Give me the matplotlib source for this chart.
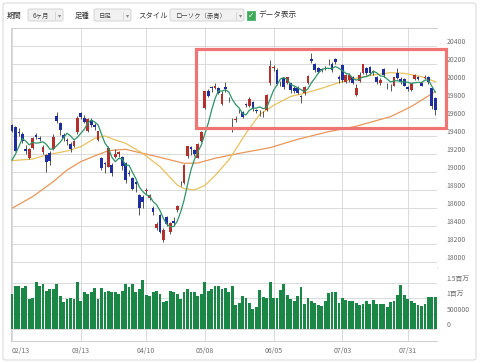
import matplotlib.pyplot as plt
import pandas as pd
from matplotlib.patches import Rectangle, FancyBboxPatch

plt.rcParams['font.family'] = ['Noto Sans CJK JP', 'DejaVu Sans']

W, H = 480, 363

# x軸ラベル（営業日インデックス）
date_labels = ['02/13', '03/13', '04/10', '05/08', '06/05', '07/03', '07/31']
date_pos = [0, 20, 39, 56, 76, 96, 115]

# 日足 四本値
opens = [19520, 19500, 19440, 19420, 19250, 19160, 19270, 19410, 19380, 19220,
         19190, 19210, 19250, 19625, 19545, 19410, 19350, 19310, 19290, 19440,
         19650, 19600, 19460, 19580, 19520, 19360, 19150, 19100, 19060, 19080,
         19170, 19200, 19170, 19100, 18990, 18930, 18890, 18740, 18720, 18790,
         18710, 18600, 18380, 18520, 18240, 18500, 18330, 18460, 18580, 18880,
         18880, 19180, 19280, 19240, 19160, 19340, 19710, 19900, 19940, 19930,
         19930, 19750, 19945, 19810, 19560, 19580, 19680, 19670, 19750, 19730,
         19780, 19690, 19680, 19660, 19690, 19985, 20150, 20130, 19990, 20040,
         19990, 19985, 19930, 19930, 19840, 19880, 19990, 20250, 20200, 20160,
         20140, 20140, 20220, 20200, 20250, 20050, 20190, 20000, 20020, 20060,
         19860, 20010, 20100, 20160, 20170, 20110, 20060, 19990, 20140, 19960,
         19960, 19960, 20100, 20030, 20030, 19940, 19910, 20030, 20050, 19990,
         20050, 20060, 19930, 19820]
highs = [19530, 19510, 19490, 19440, 19300, 19270, 19390, 19430, 19400, 19300,
         19200, 19230, 19420, 19670, 19560, 19430, 19380, 19330, 19360, 19620,
         19670, 19630, 19600, 19600, 19540, 19460, 19170, 19110, 19290, 19100,
         19250, 19230, 19180, 19110, 19020, 18940, 18900, 18750, 18740, 18820,
         18760, 18620, 18440, 18530, 18380, 18510, 18440, 18500, 18630, 18900,
         19090, 19290, 19290, 19260, 19320, 19450, 19900, 19920, 19960, 19990,
         19940, 19900, 19998, 19830, 19600, 19620, 19700, 19680, 19770, 19830,
         19790, 19700, 19690, 19680, 19870, 20240, 20190, 20150, 20010, 20060,
         20060, 19990, 19950, 19950, 19860, 19960, 20080, 20320, 20210, 20170,
         20160, 20180, 20260, 20220, 20270, 20080, 20200, 20090, 20100, 20070,
         19980, 20110, 20200, 20170, 20180, 20130, 20070, 20040, 20150, 19990,
         19980, 20060, 20150, 20060, 20040, 19960, 19990, 20090, 20070, 20000,
         20080, 20070, 19940, 19830]
lows = [19440, 19230, 19400, 19320, 19200, 19140, 19260, 19370, 19340, 19200,
        19000, 19080, 19240, 19540, 19410, 19340, 19300, 19220, 19280, 19420,
        19590, 19540, 19440, 19500, 19470, 19340, 19020, 18990, 19050, 18950,
        19150, 19170, 19020, 18880, 18950, 18800, 18780, 18520, 18600, 18760,
        18690, 18520, 18360, 18320, 18224, 18400, 18310, 18400, 18560, 18840,
        18870, 19160, 19190, 19180, 19150, 19330, 19700, 19830, 19890, 19920,
        19870, 19740, 19890, 19780, 19440, 19560, 19660, 19600, 19720, 19720,
        19680, 19650, 19620, 19610, 19680, 19970, 20120, 19970, 19960, 19920,
        19980, 19880, 19880, 19870, 19770, 19860, 19980, 20210, 20110, 20100,
        20110, 20130, 20190, 20110, 20200, 19990, 20000, 19990, 20000, 19980,
        19840, 20000, 20090, 20080, 20080, 20080, 19980, 19970, 20060, 19920,
        19900, 19950, 20030, 19980, 19950, 19900, 19900, 20020, 20020, 19950,
        20030, 19980, 19700, 19630]
closes = [19459, 19238, 19437, 19347, 19234, 19251, 19381, 19389, 19371, 19283,
          19107, 19118, 19393, 19564, 19469, 19379, 19344, 19254, 19340, 19604,
          19612, 19558, 19590, 19521, 19500, 19455, 19041, 19085, 19262, 18985,
          19202, 19217, 19063, 18909, 18983, 18810, 18861, 18597, 18664, 18797,
          18747, 18552, 18426, 18335, 18355, 18418, 18432, 18430, 18620, 18875,
          19079, 19289, 19251, 19196, 19310, 19445, 19895, 19843, 19935, 19961,
          19883, 19869, 19919, 19814, 19553, 19590, 19678, 19613, 19742, 19813,
          19700, 19682, 19677, 19650, 19860, 20177, 20170, 19979, 19984, 19940,
          20050, 19908, 19898, 19883, 19831, 19943, 20067, 20230, 20138, 20110,
          20132, 20153, 20225, 20130, 20220, 20033, 20020, 20080, 20081, 19994,
          19929, 20080, 20195, 20098, 20099, 20118, 20000, 20020, 20080, 19950,
          19955, 20050, 20041, 20010, 19959, 19925, 19985, 20080, 20029, 19952,
          20055, 19996, 19738, 19690]
# 表示期間より前の終値（5日線の書き出し用）
prev_closes = [18910, 19007, 18907, 19378]

# 出来高（百万株）
volumes = [1.15, 1.41, 1.41, 1.35, 1.41, 0.98, 1.00, 1.54, 1.39, 1.48,
           1.23, 1.30, 1.30, 1.46, 1.09, 0.87, 0.98, 1.01, 0.98, 1.52,
           0.92, 1.22, 1.14, 1.22, 1.35, 0.99, 1.35, 1.20, 1.25, 1.21,
           1.21, 1.13, 1.23, 1.48, 1.37, 1.46, 1.20, 1.30, 1.59, 1.10,
           1.07, 1.20, 1.24, 1.15, 0.87, 0.93, 1.23, 1.21, 1.15, 0.99,
           1.20, 1.30, 1.20, 1.20, 1.07, 1.14, 1.52, 1.25, 1.30, 1.39,
           1.39, 1.30, 1.34, 1.20, 1.39, 0.79, 0.85, 1.07, 1.01, 0.85,
           0.65, 0.72, 1.26, 1.04, 1.01, 1.53, 1.01, 1.01, 1.26, 1.48,
           1.12, 0.99, 0.93, 1.09, 1.37, 0.82, 1.01, 0.93, 0.85, 0.79,
           0.76, 0.90, 1.17, 1.21, 1.20, 0.85, 1.01, 0.96, 0.93, 0.93,
           0.85, 0.77, 0.83, 0.90, 0.83, 0.96, 0.82, 0.82, 0.83, 0.72,
           0.89, 0.91, 1.10, 1.43, 1.12, 0.98, 0.93, 0.85, 0.77, 0.76,
           0.82, 1.04, 1.04, 1.04]

# 25日線・75日線（チャートから読み取り）
ma25_pos = [0, 6, 10, 16, 20, 24, 27, 30, 33, 38, 43, 48, 50, 53, 56, 59, 63, 68,
            72, 76, 81, 85, 90, 95, 100, 105, 110, 114, 119, 123]
ma25_val = [19126, 19144, 19189, 19233, 19281, 19374, 19400, 19356, 19319, 19207,
            19059, 18856, 18815, 18800, 18850, 18960, 19133, 19430, 19640, 19740,
            19840, 19874, 19930, 19993, 20041, 20078, 20104, 20096, 20059, 20004]
ma75_pos = [0, 6, 12, 16, 20, 24, 28, 33, 38, 43, 50, 54, 59, 66, 75, 83, 92, 100,
            110, 116, 123]
ma75_val = [18597, 18726, 18893, 19022, 19115, 19178, 19237, 19252, 19207, 19163,
            19096, 19100, 19152, 19207, 19270, 19363, 19448, 19508, 19615, 19726,
            19893]

price_ticks = list(range(18000, 20401, 200))
vol_ticks = [0, 500000, 1000000, 1500000]
vol_tick_labels = ['0', '500000', '1百万', '1.5百万']

# 強調枠（価格座標）
box_x = (53.5, 126.2)
box_y = (19489, 20367)

UP = '#b3302c'
DOWN = '#1e2e9e'
GRID = '#dadada'
TXT = '#6f6f6f'


def fx(px):
    return px / W


def fy(py):
    return 1 - py / H


fig = plt.figure(figsize=(W / 100, H / 100), dpi=100)
fig.patch.set_facecolor('white')

# 外枠
fig.add_artist(FancyBboxPatch((fx(3), fy(360)), fx(473), 357 / H,
                              boxstyle='round,pad=0,rounding_size=0.006',
                              transform=fig.transFigure, facecolor='none',
                              edgecolor='#dcdcdc', lw=0.8))

# ツールバー
ty = fy(15.5)
fig.text(fx(7), ty, '期間', fontsize=5.3, color='#333333', va='center')
fig.text(fx(75), ty, '足種', fontsize=5.3, color='#333333', va='center')
fig.text(fx(138), ty, 'スタイル', fontsize=5.3, color='#333333', va='center')
fig.text(fx(258), ty, 'データ表示', fontsize=5.5, color='#333333', va='center')
for x0, x1, label in [(28, 63, '6ヶ月'), (94, 131, '日足'), (170, 244, 'ローソク（赤青）')]:
    fig.add_artist(FancyBboxPatch((fx(x0), fy(21)), fx(x1 - x0), 12 / H,
                                  boxstyle='round,pad=0,rounding_size=0.004',
                                  transform=fig.transFigure, facecolor='#f1f1f1',
                                  edgecolor='#cfcfcf', lw=0.6))
    fig.text(fx(x0 + 5), ty, label, fontsize=4.6, color='#444444', va='center')
    fig.text(fx(x1 - 9), ty, '|', fontsize=4.5, color='#aaaaaa', va='center')
    fig.text(fx(x1 - 5.5), ty, '▾', fontsize=4.5, color='#888888', va='center',
             family=['DejaVu Sans'])
fig.add_artist(Rectangle((fx(246.5), fy(19.5)), fx(8.5), 8.5 / H,
                         transform=fig.transFigure, facecolor='#3fa95a',
                         edgecolor='#3fa95a', lw=0.5))
fig.text(fx(250.8), fy(15.2), '✓', fontsize=5.5, color='white', ha='center',
         va='center', family=['DejaVu Sans'], fontweight='bold')

# 軸
ax = fig.add_axes([fx(10.7), fy(268), fx(437 - 10.7), 240 / H])
axv = fig.add_axes([fx(10.7), fy(341), fx(437 - 10.7), 73 / H], sharex=ax)

n = len(closes)
xs = list(range(n))
df = pd.DataFrame({'o': opens, 'h': highs, 'l': lows, 'c': closes}, index=xs)
ma5 = pd.Series(prev_closes + closes).rolling(5).mean().iloc[len(prev_closes):].values

colors = [UP if c >= o else DOWN for o, c in zip(df.o, df.c)]
body = [max(abs(c - o), 6) for o, c in zip(df.o, df.c)]
bottoms = [min(o, c) if abs(c - o) >= 6 else (o + c) / 2 - 3 for o, c in zip(df.o, df.c)]

ax.vlines(xs, df.l, df.h, color='#3a3a3a', lw=0.6, zorder=3)
ax.bar(xs, body, bottom=bottoms, width=0.8, color=colors, zorder=4, linewidth=0)
ax.plot(ma75_pos, ma75_val, color='#e8965a', lw=0.9, zorder=2)
ax.plot(ma25_pos, ma25_val, color='#e9c25e', lw=0.9, zorder=2)
ax.plot(xs, ma5, color='#2f9468', lw=0.9, zorder=5)

ax.add_patch(Rectangle((box_x[0], box_y[0]), box_x[1] - box_x[0], box_y[1] - box_y[0],
                       facecolor='none', edgecolor='#ef7575', lw=2.3,
                       clip_on=False, zorder=6))

ax.set_xlim(-0.38, 123.5)
ax.set_ylim(17933, 20600)
ax.set_yticks(price_ticks)
ax.set_yticklabels([str(v) for v in price_ticks])
ax.yaxis.tick_right()
ax.tick_params(axis='y', length=0, pad=7, labelsize=4.9, labelcolor=TXT)
for lab in ax.get_yticklabels():
    lab.set_verticalalignment('bottom')
ax.tick_params(axis='x', length=0, labelbottom=False)
ax.set_xticks(date_pos)
ax.grid(True, color=GRID, lw=0.7)
ax.set_axisbelow(True)

# 出来高
axv.bar(xs, [v * 1e6 for v in volumes], width=0.82, color='#1a8746',
        linewidth=0, zorder=3)
axv.set_ylim(-392000, 1993000)
axv.set_yticks(vol_ticks)
axv.set_yticklabels(vol_tick_labels)
axv.yaxis.tick_right()
axv.tick_params(axis='y', length=0, pad=7, labelsize=4.9, labelcolor=TXT)
for lab in axv.get_yticklabels():
    lab.set_verticalalignment('bottom')
axv.set_xticks(date_pos)
axv.set_xticklabels(date_labels)
axv.tick_params(axis='x', length=0, pad=4, labelsize=5, labelcolor=TXT)
axv.get_xticklabels()[0].set_horizontalalignment('left')
axv.grid(True, color=GRID, lw=0.7)
axv.set_axisbelow(True)

for a in (ax, axv):
    a.spines['right'].set_visible(False)
    for s in ('left', 'top', 'bottom'):
        a.spines[s].set_color('#cfcfcf')
        a.spines[s].set_linewidth(0.7)
axv.spines['top'].set_visible(False)

fig.savefig('out.png', dpi=100)
